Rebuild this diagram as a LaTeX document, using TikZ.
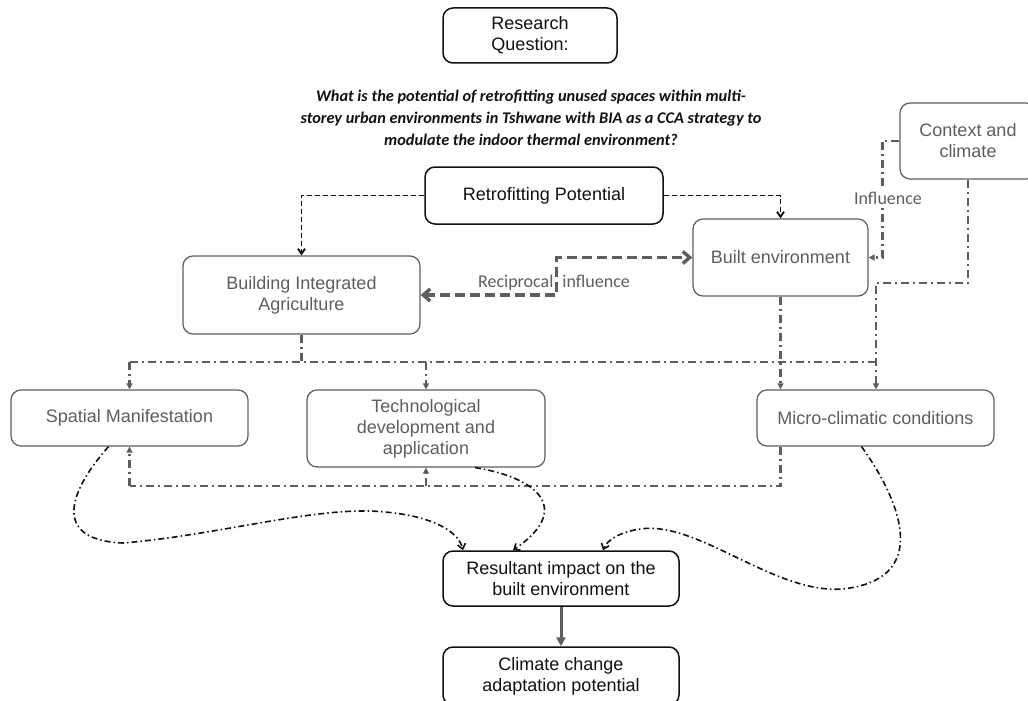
\documentclass[tikz,border=0pt]{standalone}
\usepackage{fontspec}
\setmainfont{Liberation Sans}
\newfontfamily\calfont{Carlito}
\usepackage{tikz}
\usepackage{xcolor}
\usetikzlibrary{arrows.meta,positioning,calc}
\definecolor{ink}{HTML}{111111}
\definecolor{inkgray}{HTML}{5E5E5E}
\tikzset{
  blackbox/.style={draw=ink,fill=white,rounded corners=10pt,line width=1.5pt,
                   text=ink,align=center,inner sep=2pt,
                   font=\fontsize{18}{21}\selectfont},
  graybox/.style={blackbox,draw=inkgray,line width=1.2pt,text=inkgray},
  lbl/.style={text=inkgray,inner sep=2pt,font=\calfont\fontsize{18}{21}\selectfont},
  dasharr/.style={-{Straight Barb[length=5pt,width=7pt]},draw=ink,line width=1.9pt,
                  dash pattern=on 5pt off 3pt},
  recarr/.style={{Straight Barb[length=7pt,width=12pt]}-{Straight Barb[length=7pt,width=12pt]},
                 draw=inkgray,line width=3.4pt,dash pattern=on 10pt off 5pt},
  linkline/.style={draw=inkgray,line width=2.7pt,
                   dash pattern=on 8pt off 4pt on 2pt off 4pt},
  linkarr/.style={linkline,-{Triangle[length=6pt,width=6pt]}},
  curvearr/.style={-{Straight Barb[length=5pt,width=8pt]},draw=ink,line width=1.6pt,
                   dash pattern=on 6pt off 3pt on 1.5pt off 3pt},
  mainarr/.style={-{Triangle[length=9pt,width=9pt]},draw=inkgray,line width=3pt}
}
\begin{document}
\begin{tikzpicture}[x=1pt,y=-1pt]
  \useasboundingbox (0,0) rectangle (1028,701);
  % question
  \node[blackbox,minimum width=174pt,minimum height=55pt] (rq) at (530,35.5) {Research\\Question:};
  \node[align=center,text=ink,font=\calfont\bfseries\itshape\fontsize{16.3}{22}\selectfont] (quest) at (531,118)
    {What is the potential of retrofitting unused spaces within multi-\\
     storey urban environments in Tshwane with BIA as a CCA strategy to\\
     modulate the indoor thermal environment?};
  % boxes
  \node[graybox,minimum width=136pt,minimum height=76pt] (ctx) at (968,141) {Context and\\climate};
  \node[blackbox,minimum width=238pt,minimum height=57pt] (retro) at (544,195.5) {Retrofitting Potential};
  \node[graybox,minimum width=175pt,minimum height=77pt] (built) at (780.5,257.5) {Built environment};
  \node[graybox,minimum width=237pt,minimum height=78pt] (bia) at (301.5,295) {Building Integrated\\Agriculture};
  \node[graybox,minimum width=237pt,minimum height=56pt] (spatial) at (129.5,418) {Spatial Manifestation};
  \node[graybox,minimum width=238pt,minimum height=77pt] (tech) at (426,428.5) {Technological\\development and\\application};
  \node[graybox,minimum width=237pt,minimum height=56pt] (micro) at (875.5,418) {Micro-climatic conditions};
  \node[blackbox,minimum width=236pt,minimum height=55pt] (result) at (561,578.5) {Resultant impact on the\\built environment};
  \node[blackbox,minimum width=236pt,minimum height=58pt] (climate) at (561,676) {Climate change\\adaptation potential};
  \coordinate (cj) at (876,283);
  \coordinate (topbus) at (0,362);
  \coordinate (lowbus) at (0,486);
  % retrofitting links
  \draw[dasharr] (retro.west) -| (bia.north);
  \draw[dasharr] (retro.east) -| (built.north);
  \draw[recarr] (bia.east) -- ++(136,0) |- (built.west);
  \node[lbl] (recl) at (554,283) {Reciprocal\hspace{9pt}influence};
  % context links
  \draw[linkarr] (ctx.west) -- ++(-17,0) |- (built.east);
  \node[lbl,fill=white] (infl) at (888,198) {Influence};
  \draw[linkarr] (ctx.south) |- (cj) -- (cj |- micro.north);
  \draw[linkarr] (built.south) -- (built.south |- micro.north);
  % upper bus
  \draw[linkline] (bia.south) -- (bia.south |- topbus);
  \draw[linkline] (spatial.north |- topbus) -- (cj |- topbus);
  \draw[linkarr] (spatial.north |- topbus) -- (spatial.north);
  \draw[linkarr] (tech.north |- topbus) -- (tech.north);
  % lower bus
  \draw[linkline] (built.south |- micro.south) -- (built.south |- lowbus) -- (spatial.south |- lowbus);
  \draw[linkarr] (spatial.south |- lowbus) -- (spatial.south);
  \draw[linkarr] (tech.south |- lowbus) -- (tech.south);
  % impacts
  \draw[curvearr] ([xshift=-21pt]spatial.south) .. controls (70,490) and (50,540) .. (123,543)
    .. controls (220,535) and (320,505) .. (385,512) .. controls (430,516) and (458,530) .. ([xshift=-98pt]result.north);
  \draw[curvearr] ([xshift=49pt]tech.south) .. controls (540,478) and (572,510) .. ([xshift=-48pt]result.north);
  \draw[curvearr] ([xshift=-14pt]micro.south) .. controls (900,500) and (930,575) .. (850,588)
    .. controls (780,600) and (700,520) .. (640,529) .. controls (620,532) and (607,540) .. ([xshift=42pt]result.north);
  \draw[mainarr] (result) -- (climate);
\end{tikzpicture}
\end{document}
